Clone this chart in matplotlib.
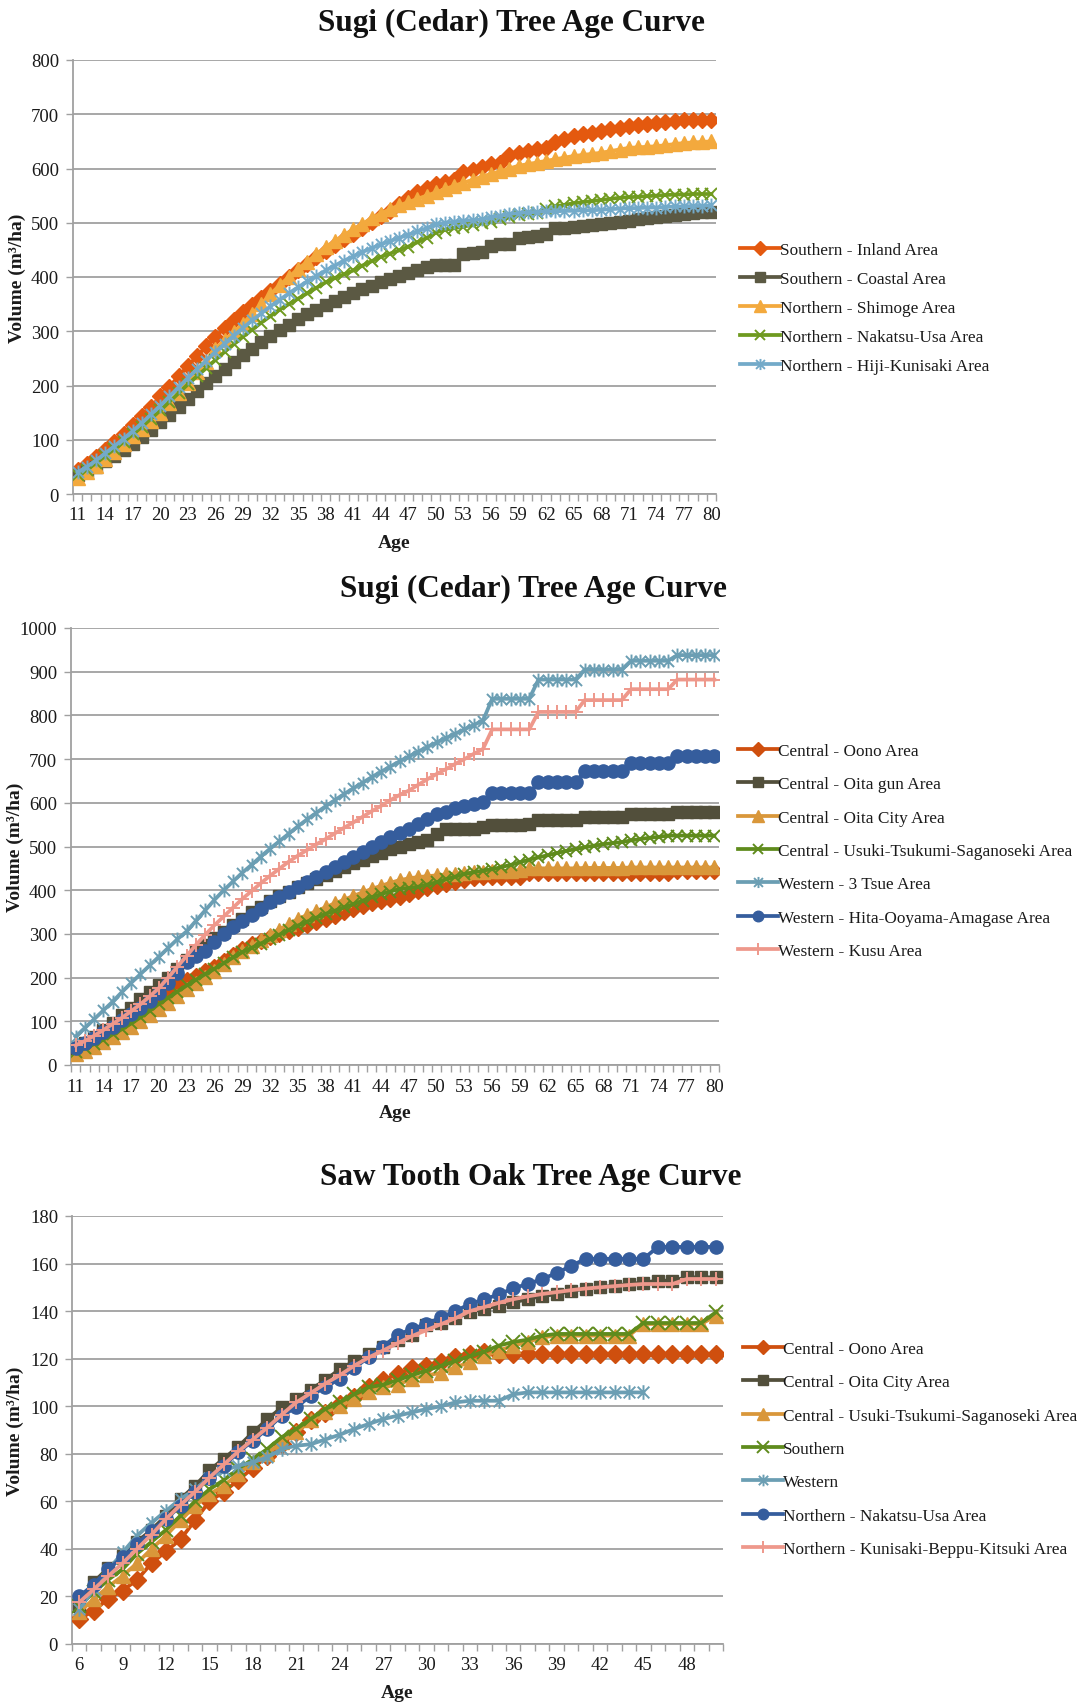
import matplotlib
matplotlib.use("Agg")
import matplotlib.pyplot as plt
from matplotlib.path import Path

plt.rcParams['font.family'] = ['Liberation Serif', 'DejaVu Serif']

# ---------------- Sugi (Cedar), panel 1: ages 11-80 ----------------
ages_sugi = list(range(11, 81))

inland = [45, 56, 68, 82, 96, 111, 127, 143, 160, 180,
          198, 217, 236, 254, 272, 290, 306, 321, 336, 349,
          362, 375, 388, 400, 412, 424, 436, 448, 459, 470,
          480, 491, 501, 512, 522, 534, 546, 556, 564, 572,
          575, 578, 593, 598, 603, 608, 610, 625, 628, 632,
          636, 638, 648, 655, 660, 663, 666, 669, 672, 675,
          678, 680, 682, 684, 686, 688, 690, 690, 690, 690]
coastal = [35, 42, 50, 60, 70, 81, 93, 105, 118, 132,
           146, 160, 175, 190, 204, 218, 231, 244, 256, 268,
           280, 291, 302, 312, 322, 331, 340, 348, 356, 363,
           370, 377, 384, 390, 396, 402, 408, 413, 418, 422,
           422, 422, 442, 444, 446, 458, 460, 461, 472, 474,
           476, 480, 490, 491, 492, 494, 496, 498, 500, 502,
           504, 506, 508, 510, 512, 514, 516, 518, 519, 520]
shimoge = [30, 40, 52, 65, 78, 92, 106, 120, 135, 150,
           168, 186, 205, 224, 243, 268, 283, 298, 314, 332,
           350, 368, 385, 400, 415, 428, 442, 455, 466, 477,
           488, 498, 508, 517, 525, 532, 538, 544, 550, 556,
           562, 568, 574, 579, 585, 590, 595, 600, 605, 608,
           611, 614, 617, 620, 623, 625, 627, 629, 632, 635,
           638, 639, 640, 641, 643, 645, 647, 648, 649, 650]
nakatsu_usa = [35, 45, 57, 70, 83, 96, 110, 124, 139, 154,
               170, 186, 202, 217, 232, 247, 262, 276, 290, 303,
               316, 328, 340, 350, 360, 370, 380, 390, 398, 405,
               412, 421, 429, 437, 443, 449, 456, 464, 472, 482,
               487, 490, 493, 496, 499, 502, 506, 510, 514, 516,
               518, 525, 530, 533, 536, 538, 540, 542, 544, 546,
               547, 548, 549, 550, 551, 552, 552, 553, 553, 553]
hiji_kunisaki = [40, 50, 62, 75, 88, 102, 116, 131, 147, 163,
                 180, 197, 214, 230, 246, 262, 277, 292, 306, 320,
                 333, 346, 358, 370, 381, 392, 402, 412, 421, 430,
                 438, 446, 453, 460, 466, 472, 478, 484, 490, 497,
                 500, 502, 504, 505, 506, 510, 513, 516, 518, 519,
                 520, 521, 521, 522, 522, 523, 523, 524, 525, 526,
                 527, 527, 528, 528, 529, 530, 530, 531, 531, 532]

# ---------------- Sugi (Cedar), panel 2: ages 11-80 ----------------
oono = [38, 45, 55, 66, 78, 90, 102, 115, 131, 148,
        165, 181, 194, 204, 214, 225, 238, 252, 265, 276,
        284, 292, 300, 306, 313, 320, 328, 335, 342, 350,
        357, 364, 370, 375, 380, 385, 392, 398, 404, 409,
        414, 419, 424, 428, 430, 430, 430, 430, 430, 440,
        440, 440, 440, 440, 440, 440, 440, 440, 440, 440,
        440, 440, 440, 440, 440, 445, 445, 445, 445, 445]
oita_gun = [38, 50, 65, 80, 97, 114, 131, 150, 166, 182,
            200, 220, 240, 260, 275, 290, 305, 320, 335, 350,
            362, 375, 386, 397, 407, 417, 426, 435, 444, 453,
            462, 470, 478, 486, 494, 500, 505, 510, 515, 528,
            540, 540, 540, 540, 545, 550, 550, 550, 550, 552,
            560, 560, 560, 560, 560, 568, 568, 568, 568, 568,
            575, 575, 575, 575, 575, 580, 580, 580, 580, 580]
oita_city = [25, 33, 42, 52, 63, 75, 87, 100, 114, 128,
             143, 158, 174, 188, 202, 216, 231, 246, 261, 273,
             285, 297, 310, 322, 334, 343, 352, 361, 370, 378,
             387, 395, 403, 410, 417, 423, 427, 430, 432, 434,
             436, 438, 440, 441, 442, 443, 444, 445, 446, 450,
             450, 450, 450, 450, 450, 451, 451, 451, 451, 451,
             452, 452, 452, 452, 452, 452, 452, 452, 452, 452]
usuki = [30, 38, 48, 58, 70, 82, 95, 109, 124, 140,
         154, 168, 182, 195, 208, 220, 233, 246, 258, 268,
         278, 288, 298, 309, 319, 328, 337, 346, 353, 361,
         368, 376, 384, 391, 397, 403, 405, 408, 413, 418,
         425, 431, 437, 441, 445, 448, 453, 458, 464, 470,
         475, 480, 485, 490, 494, 498, 502, 505, 508, 510,
         514, 517, 520, 522, 525, 525, 525, 525, 525, 525]
tsue = [65, 85, 105, 125, 145, 167, 188, 208, 228, 248,
        268, 288, 306, 330, 354, 378, 400, 420, 440, 458,
        477, 495, 512, 529, 546, 562, 577, 592, 606, 620,
        633, 646, 659, 671, 683, 695, 706, 717, 728, 738,
        748, 758, 768, 778, 788, 838, 838, 838, 838, 838,
        882, 882, 882, 882, 882, 905, 905, 905, 905, 905,
        925, 925, 925, 925, 925, 938, 938, 938, 938, 938]
hita = [40, 50, 62, 75, 88, 102, 116, 131, 147, 165,
        188, 210, 235, 250, 262, 282, 300, 316, 330, 344,
        358, 372, 384, 396, 407, 418, 430, 441, 452, 464,
        475, 487, 498, 510, 521, 532, 540, 552, 563, 574,
        580, 587, 593, 597, 601, 622, 622, 622, 622, 622,
        647, 647, 647, 647, 647, 672, 672, 672, 672, 672,
        690, 690, 690, 690, 690, 706, 706, 706, 706, 706]
kusu = [45, 55, 67, 80, 94, 108, 123, 139, 157, 176,
        200, 225, 250, 275, 298, 320, 340, 360, 380, 398,
        416, 433, 449, 465, 479, 492, 505, 517, 530, 543,
        555, 568, 581, 593, 606, 618, 628, 641, 654, 666,
        677, 689, 700, 712, 723, 768, 768, 768, 768, 768,
        808, 808, 808, 808, 808, 835, 835, 835, 835, 835,
        860, 860, 860, 860, 860, 882, 882, 882, 882, 882]

# ---------------- Saw tooth oak, panel 3: ages 6-50 ----------------
ages_oak = list(range(6, 51))
ages_oak_western = list(range(6, 46))

oak_oono = [10.5, 14, 19, 22.5, 27, 34, 39, 44, 52, 60,
            64, 69, 74, 79, 84, 89, 94, 97, 101, 104,
            108, 111, 113.5, 116, 117, 118.5, 120.5, 122, 123, 122,
            122, 122, 122, 122, 122, 122, 122, 122, 122, 122,
            122, 122, 122, 122, 122]
oak_oita_city = [16, 26, 32, 37, 43, 48, 54, 61, 66.5, 73,
                 78, 83, 89, 94.5, 99.5, 103, 107, 111, 115.5, 119,
                 122, 125, 128, 130, 134, 135, 137, 139.5, 141, 142.3,
                 143.7, 145, 146.5, 147, 148.6, 149.3, 150, 150.7, 151.4, 152,
                 152.8, 152.8, 154.2, 154.2, 154.2]
oak_usuki = [13.3, 19, 24, 28.7, 34, 40, 45.6, 52, 58, 63,
             66.6, 71.5, 76.4, 80, 85, 89, 94, 97.4, 100, 103,
             106, 108, 109, 111.5, 113, 114, 116.4, 118.5, 121, 123.4,
             125.5, 127, 129, 129.7, 129.7, 129.7, 129.7, 129.7, 129.7, 134.6,
             134.6, 134.6, 134.6, 134.6, 138]
oak_southern = [16, 21.7, 27, 31.5, 38, 43, 48, 54, 60, 65,
                69, 73.6, 77.8, 82, 87, 90.4, 94.6, 98.8, 101.6, 105,
                108, 109, 111, 113, 115, 117, 119, 121, 123, 125.5,
                127, 128, 129.7, 130.4, 130.4, 130.4, 130.4, 130.4, 130.4, 135,
                135, 135, 135, 135, 139.5]
oak_western = [14.7, 23, 31, 38.5, 45.6, 51, 56, 61, 65, 70,
               73, 75, 76.4, 78.5, 82, 83.4, 84, 86, 88, 90.4,
               92.5, 94.6, 96, 97.4, 98.8, 100, 101.6, 102.3, 102.3, 102.3,
               105, 105.8, 105.8, 105.8, 105.8, 105.8, 105.8, 105.8, 105.8, 105.8]
oak_nakatsu_usa = [20, 25, 31.5, 36.5, 42, 47.7, 52.6, 58, 64, 70,
                   75, 80.6, 85.5, 90.4, 96, 99.5, 104.4, 108, 111.5, 116,
                   120.6, 125, 130, 132.5, 134.6, 137.4, 140, 143, 145, 147,
                   149.6, 151.4, 153.5, 156, 159, 162, 162, 162, 162, 162,
                   167, 167, 167, 167, 167]
oak_kunisaki = [17.5, 23, 28.5, 34, 40, 46, 52.6, 58.5, 64, 70,
                75.5, 81, 86, 91, 96.5, 101.6, 105.5, 109.5, 113, 117,
                120.5, 123.4, 126.5, 129.5, 132, 134.5, 137, 140, 141.7, 143.5,
                145, 146.2, 147.2, 148, 148.8, 149.5, 150, 150.5, 151, 151.4,
                151.4, 151.4, 153.5, 153.5, 153.5]

# Excel style "star": an X with a vertical bar through it
STAR = Path([(-1, -1), (1, 1), (-1, 1), (1, -1), (0, -1.25), (0, 1.25)],
            [Path.MOVETO, Path.LINETO, Path.MOVETO, Path.LINETO, Path.MOVETO, Path.LINETO])

W, H = 1080, 1706
GRID = '#a0a0a0'
TXT = '#1a1a1a'
TICK_FS = 13.5
LABEL_FS = 14
TITLE_FS = 22.5

fig = plt.figure(figsize=(W / 100, H / 100), dpi=100)


def make_axes(left, top, right, bottom):
    return fig.add_axes([left / W, 1 - bottom / H, (right - left) / W, (bottom - top) / H])


def style_axes(ax, first, last, label_step, ymax, ystep, ylab_x, xlab_y):
    ax.set_xlim(first - 0.5, last + 0.5)
    ax.set_ylim(0, ymax)
    ax.set_yticks(range(0, ymax + 1, ystep))
    ax.set_xticks(range(first, last + 1, label_step))
    ax.set_xticks([a - 0.5 for a in range(first, last + 2)], minor=True)
    ax.tick_params(axis='x', which='major', length=0, pad=9, labelsize=TICK_FS, labelcolor=TXT)
    ax.tick_params(axis='x', which='minor', length=5, width=1, color=GRID, direction='out')
    ax.tick_params(axis='y', length=5, width=1, color=GRID, pad=5, labelsize=TICK_FS, labelcolor=TXT)
    ax.yaxis.grid(True, color=GRID, lw=1.3)
    ax.set_axisbelow(True)
    for s in ('top', 'right'):
        ax.spines[s].set_visible(False)
    for s in ('left', 'bottom'):
        ax.spines[s].set_color(GRID)
        ax.spines[s].set_linewidth(1.3)
    ax.set_ylabel('Volume (m³/ha)', fontsize=LABEL_FS, fontweight='bold', color=TXT, va='center')
    ax.set_xlabel('Age', fontsize=LABEL_FS, fontweight='bold', color=TXT, va='center')
    ax.yaxis.set_label_coords(ylab_x, 0.5)
    ax.xaxis.set_label_coords(0.5, xlab_y)


def plot_series(ax, x, y, color, marker, label, ms=8):
    filled = marker in ('D', 's', '^', 'o')
    ax.plot(x, y, color=color, lw=2.7, marker=marker, ms=ms,
            mfc=color if filled else 'none', mec=color,
            mew=1 if filled else 1.4, label=label, zorder=3)


def add_legend(ax, x, ycenter, spacing):
    ax.legend(loc='center left', bbox_to_anchor=(x / W, 1 - ycenter / H),
              bbox_transform=fig.transFigure, frameon=False, fontsize=12.4,
              borderpad=0, borderaxespad=0, handlelength=2.3, handletextpad=0.0,
              labelspacing=spacing, markerscale=0.8, labelcolor=TXT)


def add_title(x, y, text):
    fig.text(x / W, 1 - y / H, text, ha='center', va='center',
             fontsize=TITLE_FS, fontweight='bold', color='#111111')


# Panel 1
ax1 = make_axes(73, 61, 716, 495)
plot_series(ax1, ages_sugi, inland, '#e4590f', 'D', 'Southern - Inland Area', ms=8.5)
plot_series(ax1, ages_sugi, coastal, '#5b5943', 's', 'Southern - Coastal Area', ms=8.5)
plot_series(ax1, ages_sugi, shimoge, '#f3a93d', '^', 'Northern - Shimoge Area', ms=10)
plot_series(ax1, ages_sugi, nakatsu_usa, '#6f9a1f', 'x', 'Northern - Nakatsu-Usa Area', ms=9)
plot_series(ax1, ages_sugi, hiji_kunisaki, '#73aac9', STAR, 'Northern - Hiji-Kunisaki Area', ms=10)
style_axes(ax1, 11, 80, 3, 800, 100, -56 / 643, -48 / 434)
add_legend(ax1, 740, 309, 0.76)
add_title(511, 23, 'Sugi (Cedar) Tree Age Curve')

# Panel 2
ax2 = make_axes(71, 629, 719, 1066)
plot_series(ax2, ages_sugi, oono, '#cf4f0e', 'D', 'Central - Oono Area', ms=8.5)
plot_series(ax2, ages_sugi, oita_gun, '#524f3b', 's', 'Central - Oita gun Area', ms=8.5)
plot_series(ax2, ages_sugi, oita_city, '#d9973a', '^', 'Central - Oita City Area', ms=10)
plot_series(ax2, ages_sugi, usuki, '#5f8b1c', 'x', 'Central - Usuki-Tsukumi-Saganoseki Area', ms=9)
plot_series(ax2, ages_sugi, tsue, '#6b9eb3', STAR, 'Western - 3 Tsue Area', ms=10)
plot_series(ax2, ages_sugi, hita, '#355d9d', 'o', 'Western - Hita-Ooyama-Amagase Area', ms=9.5)
plot_series(ax2, ages_sugi, kusu, '#ee988b', '+', 'Western - Kusu Area', ms=10)
style_axes(ax2, 11, 80, 3, 1000, 100, -56 / 648, -48 / 437)
add_legend(ax2, 738, 852, 1.0)
add_title(533, 589, 'Sugi (Cedar) Tree Age Curve')

# Panel 3
ax3 = make_axes(72, 1217, 723, 1645)
plot_series(ax3, ages_oak, oak_oono, '#cf4f0e', 'D', 'Central - Oono Area', ms=9.5)
plot_series(ax3, ages_oak, oak_oita_city, '#524f3b', 's', 'Central - Oita City Area', ms=8.5)
plot_series(ax3, ages_oak, oak_usuki, '#d9973a', '^', 'Central - Usuki-Tsukumi-Saganoseki Area', ms=10)
plot_series(ax3, ages_oak, oak_southern, '#5f8b1c', 'x', 'Southern', ms=10)
plot_series(ax3, ages_oak_western, oak_western, '#6b9eb3', STAR, 'Western', ms=10.5)
plot_series(ax3, ages_oak, oak_nakatsu_usa, '#355d9d', 'o', 'Northern - Nakatsu-Usa Area', ms=9.5)
plot_series(ax3, ages_oak, oak_kunisaki, '#ee988b', '+', 'Northern - Kunisaki-Beppu-Kitsuki Area', ms=10.5)
style_axes(ax3, 6, 50, 3, 180, 20, -57 / 651, -49 / 428)
add_legend(ax3, 743, 1450, 1.0)
add_title(531, 1177, 'Saw Tooth Oak Tree Age Curve')

fig.savefig('out.png', dpi=100)
